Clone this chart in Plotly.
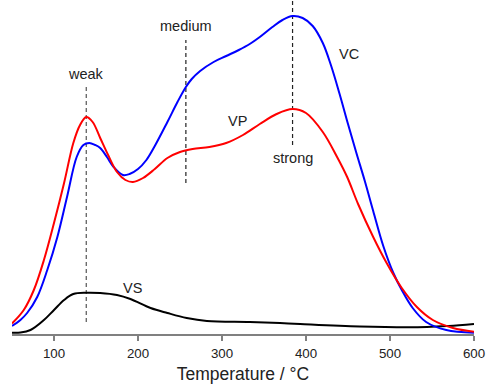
import plotly.graph_objects as go

# ---- data (temperature in °C, intensity in arbitrary units) ----
vc_T = [50, 60, 68, 80, 92, 104, 115.5, 127, 135, 142, 149, 155, 163, 171, 182, 190, 200, 210, 220, 235, 247, 257, 264, 274, 290, 305, 320, 333, 345, 360, 372, 384, 396, 408, 420, 430, 440, 450, 460, 470, 480, 492, 504, 514, 527, 543, 567, 600]
vc_y = [8, 14, 21, 37, 64, 97, 137, 177, 189, 191, 189, 186, 177, 167, 159, 160, 165, 174, 188, 212, 232, 247, 255, 263, 272, 278, 284, 290, 297, 307, 314, 318, 316, 308, 291, 268, 240, 210, 181, 153, 123, 88, 61, 44, 26, 12, 4, 1.3]

vp_T = [50, 64, 76, 88, 100, 112, 123, 131, 138.4, 146, 155, 165, 175, 185, 194, 206, 220, 235, 250, 265, 285, 305, 325, 345, 365, 384, 400, 420, 437, 449, 462, 480, 496, 514, 532, 551, 575, 600]
vp_y = [10.5, 24, 44, 74, 111, 151, 191, 209, 217, 212, 196, 178, 162, 154, 152, 156, 165, 176, 182, 185, 187, 191, 199, 210, 220, 225, 221, 202, 177, 157, 130, 97, 71, 46, 27, 14, 6, 2.3]

vs_T = [50, 60, 72, 88, 100, 112, 123, 139, 155, 175, 191, 215, 235, 258, 282, 333, 369, 393, 464, 544, 570, 600]
vs_y = [1.3, 1.5, 4, 14, 24, 34, 40, 41.3, 41, 39, 35, 26, 21, 16, 13, 12, 11, 10, 7.5, 7, 8, 10]

# reference markers (dashed lines) : position, bottom, top
mark_T = [138.4, 257, 384]
mark_lo = [12, 151, 189]
mark_hi = [249, 294, 334]
mark_col = ["#555555", "#222222", "#222222"]

labels = ["weak", "medium", "strong", "VP", "VC", "VS"]
label_T = [138.4, 257, 384.5, 318, 451, 194]
label_y = [260, 308, 176, 213, 280, 46]

tick_vals = [100, 200, 300, 400, 500, 600]

fig = go.Figure()
fig.add_trace(go.Scatter(x=vs_T, y=vs_y, mode="lines",
                         line=dict(color="black", width=2, shape="spline", smoothing=1.0)))
fig.add_trace(go.Scatter(x=vc_T, y=vc_y, mode="lines",
                         line=dict(color="#0000FF", width=2, shape="spline", smoothing=1.0)))
fig.add_trace(go.Scatter(x=vp_T, y=vp_y, mode="lines",
                         line=dict(color="#FF0000", width=2, shape="spline", smoothing=1.0)))

for t, lo, hi, c in zip(mark_T, mark_lo, mark_hi, mark_col):
    fig.add_shape(type="line", xref="x", yref="y", x0=t, x1=t, y0=lo, y1=hi,
                  line=dict(color=c, width=1.2, dash="4px,3px"), layer="below")

for txt, t, y in zip(labels, label_T, label_y):
    fig.add_annotation(x=t, y=y, xref="x", yref="y", text=txt, showarrow=False,
                       font=dict(family="Liberation Sans, Arial", size=14.5, color="#222222"))

fig.update_layout(
    width=487, height=388,
    margin=dict(l=12, r=13, t=0, b=54),
    paper_bgcolor="white", plot_bgcolor="white",
    showlegend=False,
    font=dict(family="Liberation Sans, Arial", color="#222222"),
    xaxis=dict(range=[50, 600], tickvals=tick_vals, ticks="outside", ticklen=5,
               tickcolor="#808080", tickwidth=1.3, showline=True, linecolor="#808080",
               linewidth=1.5, showgrid=False, zeroline=False, ticklabelstandoff=2,
               tickfont=dict(size=13.3, color="#222222"),
               title=dict(text="Temperature / °C", font=dict(size=17.5, color="#222222"), standoff=7)),
    yaxis=dict(range=[0, 334], visible=False),
)

fig.write_html("out.html", config={"displayModeBar": False, "staticPlot": True},
               post_script="document.body.style.margin='0';")
